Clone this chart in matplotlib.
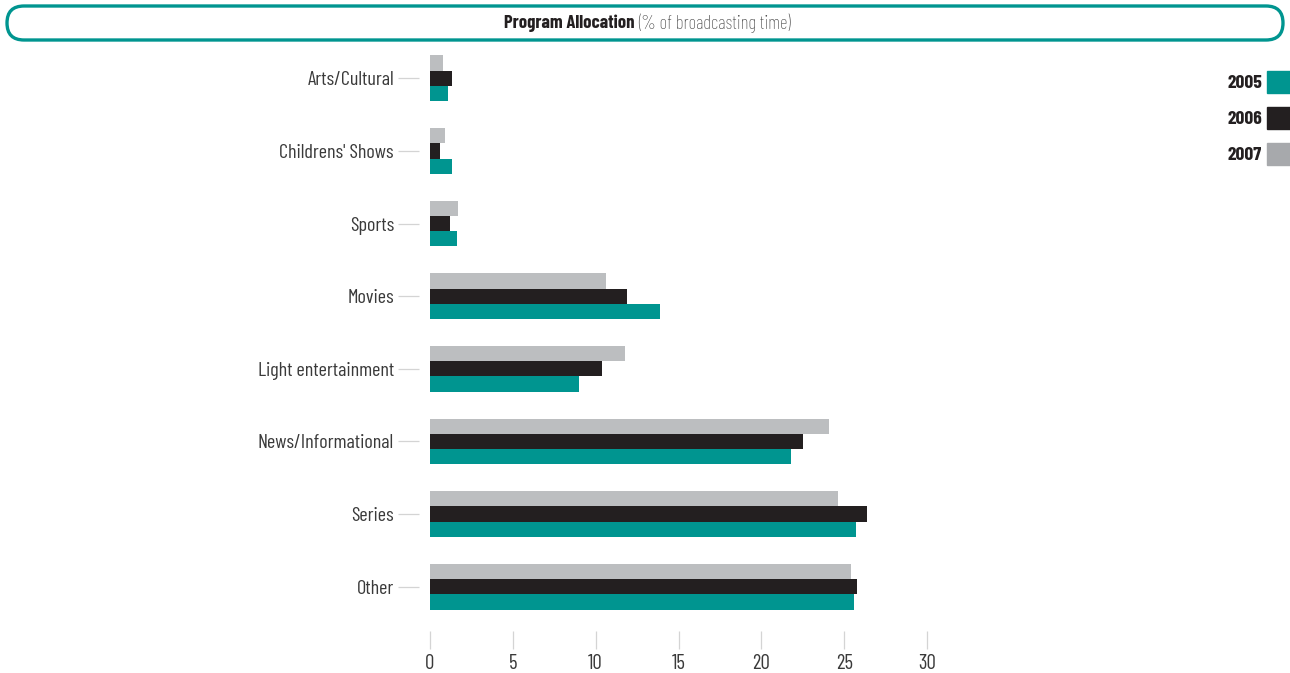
import numpy as np
import matplotlib.pyplot as plt
from matplotlib.patches import FancyBboxPatch, Rectangle

categories = ["Arts/Cultural", "Childrens' Shows", "Sports", "Movies",
              "Light entertainment", "News/Informational", "Series", "Other"]
years = ["2005", "2006", "2007"]
v2005 = [1.1, 1.3, 1.6, 13.9, 9.0, 21.8, 25.7, 25.6]
v2006 = [1.3, 0.6, 1.2, 11.9, 10.4, 22.5, 26.4, 25.8]
v2007 = [0.8, 0.9, 1.7, 10.6, 11.8, 24.1, 24.6, 25.4]
xticks = [0, 5, 10, 15, 20, 25, 30]

teal = "#009590"
dark = "#231f20"
gray = "#bcbec0"
txt = "#3a3a3a"

plt.rcParams['font.family'] = ['Barlow Condensed', 'DejaVu Sans']

fig = plt.figure(figsize=(12.9, 6.73), dpi=100)

# overlay in pixel coords for title box and legend
ov = fig.add_axes([0, 0, 1, 1])
ov.set_xlim(0, 1290)
ov.set_ylim(673, 0)
ov.axis("off")

ax = fig.add_axes([430/1290, 1-623/673, 497/1290, (623-42)/673])

y = np.arange(len(categories))
h = 0.21
ax.barh(y + h, v2005, height=h, color=teal)
ax.barh(y, v2006, height=h, color=dark)
ax.barh(y - h, v2007, height=h, color=gray)

ax.set_xlim(0, 30)
ax.set_ylim(len(categories) - 0.5, -0.5)
ax.set_xticks(xticks)
ax.set_yticks(y)
ax.set_yticklabels(categories, fontweight="light")
for lab in ax.get_xticklabels():
    lab.set_fontweight("light")
for s in ax.spines.values():
    s.set_visible(False)
ax.spines['bottom'].set_position(('outward', 6))
ax.spines['left'].set_position(('outward', 8))
ax.tick_params(axis='x', length=13, width=0.9, color="#d4d4d4", pad=3,
               labelsize=15, labelcolor=txt)
ax.tick_params(axis='y', length=15, width=0.9, color="#d4d4d4", pad=3,
               labelsize=14.5, labelcolor=txt)

# title box
box = FancyBboxPatch((7, 6), 1276, 34, boxstyle="round,pad=0,rounding_size=17",
                     facecolor="white", edgecolor=teal, linewidth=2.4)
ov.add_patch(box)
ov.text(634, 23, "Program Allocation", ha="right", va="center",
        fontsize=13.5, fontweight="bold", color=dark)
ov.text(638, 23, "(% of broadcasting time)", ha="left", va="center",
        fontsize=13.5, fontweight="light", color=txt)

# legend
legend_colors = [teal, dark, "#a7a9ac"]
for i, (yr, c) in enumerate(zip(years, legend_colors)):
    yc = 82 + i * 36
    ov.add_patch(Rectangle((1267, yc - 11), 23, 22, color=c))
    ov.text(1262, yc + 1, yr, ha="right", va="center",
            fontsize=14, fontweight="bold", color=dark)

fig.savefig("out.png", dpi=100)
